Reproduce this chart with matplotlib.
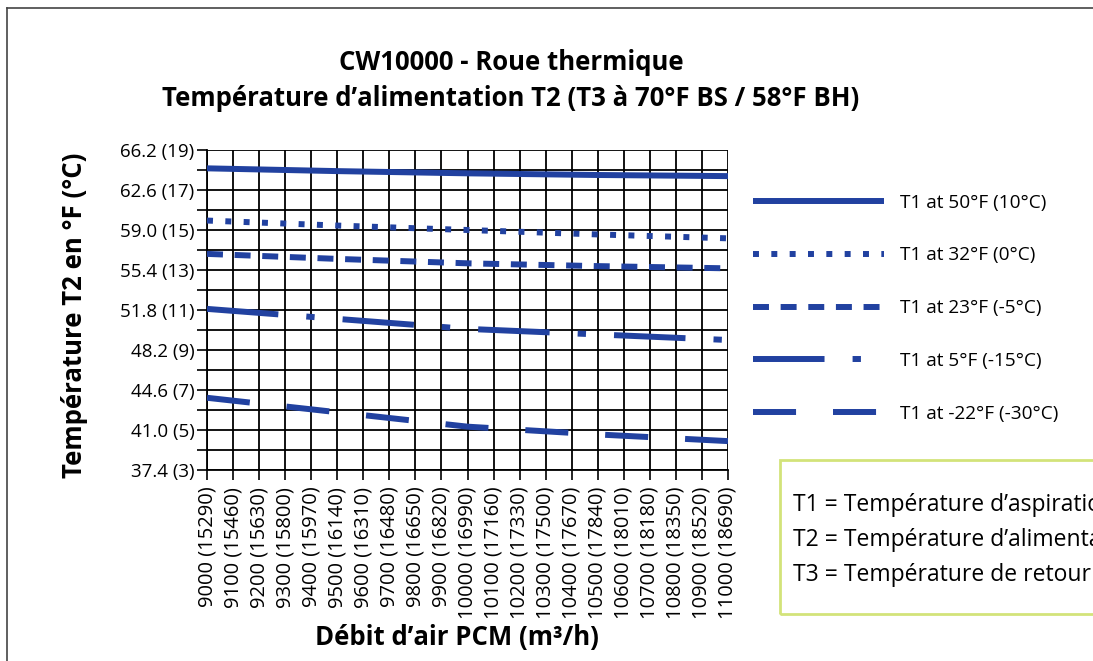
import matplotlib
matplotlib.use("Agg")
import matplotlib.pyplot as plt
from matplotlib.lines import Line2D
from matplotlib.patches import Rectangle
import numpy as np

plt.rcParams['font.family'] = ['Open Sans', 'DejaVu Sans']
plt.rcParams['lines.scale_dashes'] = False

# data
flow_cfm = [9000, 9500, 10000, 10500, 11000]
t1_50 = [64.55, 64.3, 64.1, 63.95, 63.85]
t1_32 = [59.85, 59.4, 59.0, 58.6, 58.25]
t1_23 = [56.85, 56.4, 56.0, 55.75, 55.55]
t1_5 = [51.9, 51.0, 50.1, 49.6, 49.1]
t1_m22 = [43.9, 42.6, 41.3, 40.6, 40.0]

labels = ["T1 at 50°F (10°C)", "T1 at 32°F (0°C)", "T1 at 23°F (-5°C)",
          "T1 at 5°F (-15°C)", "T1 at -22°F (-30°C)"]

x_ticks = list(range(9000, 11001, 100))
x_m3h = [15290, 15460, 15630, 15800, 15970, 16140, 16310, 16480, 16650, 16820,
         16990, 17160, 17330, 17500, 17670, 17840, 18010, 18180, 18350, 18520, 18690]
y_major = [37.4, 41.0, 44.6, 48.2, 51.8, 55.4, 59.0, 62.6, 66.2]
y_c = [3, 5, 7, 9, 11, 13, 15, 17, 19]

blue = "#2141a0"

fig = plt.figure(figsize=(10.93, 6.61), dpi=100)
ax = fig.add_axes([207 / 1093, 1 - 470 / 661, (728 - 207) / 1093, 320 / 661])

styles = [
    "-",
    (0, (4.3, 8.9)),
    (0, (11.5, 8.4)),
    (0, (51.5, 20.2, 6.0, 20.2)),
    (0, (31.0, 26.6)),
]
series = [t1_50, t1_32, t1_23, t1_5, t1_m22]
for s, ls, lab in zip(series, styles, labels):
    ax.plot(flow_cfm, s, color=blue, lw=4.3, linestyle=ls, solid_capstyle="butt",
            dash_capstyle="butt", label=lab, zorder=3)

ax.set_xlim(9000, 11000)
ax.set_ylim(37.4, 66.2)
ax.set_xticks(x_ticks)
ax.set_xticklabels([f"{a} ({b})" for a, b in zip(x_ticks, x_m3h)],
                   rotation=90, fontsize=14.5)
ax.set_yticks(y_major)
ax.set_yticklabels([f"{v:.1f} ({c})" for v, c in zip(y_major, y_c)], fontsize=13.5)
ax.set_yticks(np.arange(39.2, 66.2, 3.6), minor=True)
ax.tick_params(axis="both", which="both", direction="out", length=7, width=1.2,
               color="black", pad=2)
ax.tick_params(axis="x", pad=5)
ax.grid(True, which="both", color="black", lw=1.3)
ax.set_axisbelow(True)
for sp in ["top", "right"]:
    ax.spines[sp].set_visible(False)
for sp in ["left", "bottom"]:
    ax.spines[sp].set_linewidth(1.3)

fig.text(457 / 1093, 1 - 637 / 661, "Débit d’air PCM (m³/h)", ha="center",
         va="center", fontsize=18.5, fontweight="bold")
fig.text(75 / 1093, 1 - 315 / 661, "Température T2 en °F (°C)", ha="center",
         va="center", rotation=90, fontsize=18.5, fontweight="bold")

fig.text(511 / 1093, 1 - 63 / 661, "CW10000 - Roue thermique", ha="center",
         va="center", fontsize=18.5, fontweight="bold")
fig.text(511 / 1093, 1 - 98 / 661,
         "Température d’alimentation T2 (T3 à 70°F BS / 58°F BH)", ha="center",
         va="center", fontsize=18.5, fontweight="bold")

leg = ax.legend(loc="upper left", bbox_to_anchor=(745 / 1093, 1 - 186 / 661),
                bbox_transform=fig.transFigure, frameon=False, fontsize=13.7,
                handlelength=6.9, handletextpad=0.85, labelspacing=1.83,
                borderaxespad=0)

# definitions box (cut by the figure edge, as in the source)
fig.patches.append(Rectangle((780 / 1093, 1 - 614 / 661), 0.4, 154 / 661,
                             transform=fig.transFigure, fill=False,
                             edgecolor="#d3e37a", lw=2))
defs = ["T1 = Température d’aspiration", "T2 = Température d’alimentation",
        "T3 = Température de retour"]
for i, t in enumerate(defs):
    fig.text(793 / 1093, 1 - (505 + i * 35) / 661, t, ha="left", va="center",
             fontsize=16.5)

# outer frame
fig.add_artist(Line2D([7 / 1093, 1.0], [1 - 8 / 661, 1 - 8 / 661],
                      transform=fig.transFigure, color="#444444", lw=1.2))
fig.add_artist(Line2D([7 / 1093, 7 / 1093], [0, 1 - 8 / 661],
                      transform=fig.transFigure, color="#444444", lw=1.2))

fig.savefig("out.png", dpi=100)
